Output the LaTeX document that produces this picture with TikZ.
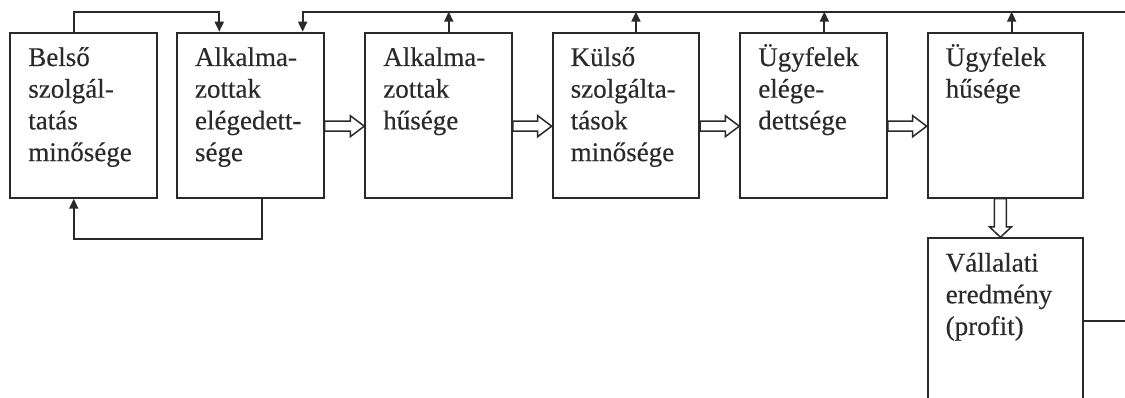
\documentclass[tikz,border=0pt]{standalone}
\usepackage{fontspec}
\setmainfont{Liberation Serif}[FakeBold=0.3]
\usetikzlibrary{arrows.meta,calc}
\definecolor{ink}{HTML}{2A2A2A}
\tikzset{
  box/.style={draw=ink, line width=2pt, minimum width=146.5pt, minimum height=165pt,
              inner sep=0pt, anchor=north west},
  widebox/.style={box, minimum width=155.5pt},
  boxtext/.style={anchor=base west, inner sep=0pt, text=ink,
                  font=\fontsize{27}{31.7}\selectfont},
  conn/.style={draw=ink, line width=1.8pt},
  tip/.style={-{Triangle[length=10pt,width=9pt]}},
  hollow/.style={draw=ink, line width=1.5pt, fill=white, line join=miter},
}
% text block set in the upper left corner of a box
\newcommand\boxlabel[3]{%
  \node[boxtext] (#1) at ([shift={(18.8,34.3)}]#2.north west)
    {\parbox[t]{135pt}{\raggedright #3}};}
% hollow block arrow from one box to the next one on its right
\newcommand\flowright[2]{%
  \draw[hollow] ($(#1.east)+(0,6)$) -- ($(#2.west)+(-14,6)$) -- ($(#2.west)+(-14,0.5)$)
    -- ($(#2.west)+(0,11)$) -- ($(#2.west)+(-14,21.5)$) -- ($(#2.west)+(-14,16)$)
    -- ($(#1.east)+(0,16)$) -- cycle;}
\begin{document}
\begin{tikzpicture}[x=1pt,y=-1pt]
\useasboundingbox (0,0) rectangle (1125,398);
\fill[white] (0,0) rectangle (1125,398);
\clip (0,0) rectangle (1125,398);

% boxes
\node[box] (b1) at (9.3,31.7) {};
\node[box] (b2) at (176,31.7) {};
\node[box] (b3) at (364.3,31.7) {};
\node[box] (b4) at (551.7,31.7) {};
\node[box] (b5) at (739.3,31.7) {};
\node[widebox] (b6) at (926.7,31.7) {};
\node[widebox, minimum height=165.5pt] (b7) at (926.7,237.3) {};

\boxlabel{t1}{b1}{Belső\\szolgál-\\tatás\\minősége}
\boxlabel{t2}{b2}{Alkalma-\\zottak\\elégedett-\\sége}
\boxlabel{t3}{b3}{Alkalma-\\zottak\\hűsége}
\boxlabel{t4}{b4}{Külső\\szolgálta-\\tások\\minősége}
\boxlabel{t5}{b5}{Ügyfelek\\elége-\\dettsége}
\boxlabel{t6}{b6}{Ügyfelek\\hűsége}
\boxlabel{t7}{b7}{Vállalati\\eredmény\\(profit)}

% main chain
\flowright{b2}{b3}
\flowright{b3}{b4}
\flowright{b4}{b5}
\flowright{b5}{b6}
\draw[hollow] ($(b6.south)+(-11,0)$) -- ($(b7.north)+(-11,-10.5)$) -- ($(b7.north)+(-16,-10.5)$)
  -- ($(b7.north)+(-5,0)$) -- ($(b7.north)+(6,-10.5)$) -- ($(b7.north)+(1,-10.5)$)
  -- ($(b6.south)+(1,0)$) -- cycle;

% feedback loops
\coordinate (railend) at (1125,11.7);
\coordinate (sideend) at (1125,320);
\draw[conn,tip] ([xshift=-9.8]b1.north) -- ++(0,-20) -| ([xshift=-31]b2.north);
\draw[conn,tip] ([xshift=11.4]b2.south) -- ++(0,40.6) -| ([xshift=-9.8]b1.south);
\draw[conn,tip] (railend) -| ([xshift=52.4]b2.north);
\draw[conn,tip] ([xshift=10.2]b3.north) -- ++(0,-20);
\draw[conn,tip] ([xshift=10]b4.north) -- ++(0,-20);
\draw[conn,tip] ([xshift=10.8]b5.north) -- ++(0,-20);
\draw[conn,tip] ([xshift=6.2]b6.north) -- ++(0,-20);
\draw[conn] (b7.east) -- (b7.east -| sideend);
\end{tikzpicture}
\end{document}
